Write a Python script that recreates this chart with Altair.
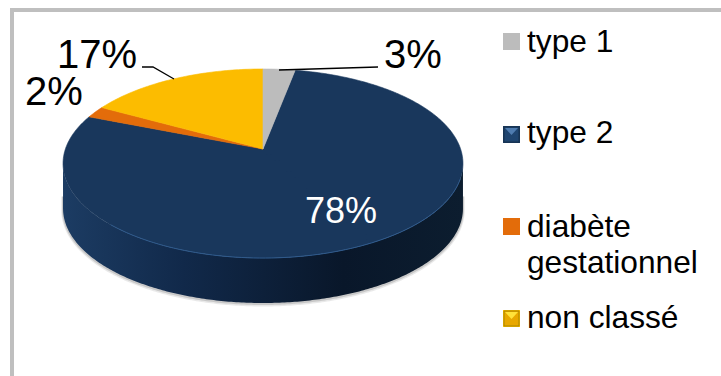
import numpy as np
import pandas as pd
import altair as alt

# Diabetes types and their shares, in percent
categories = ["type 1", "type 2", "diabète gestationnel", "non classé"]
shares = [3, 78, 2, 17]
colors = ["#bcbcbc", "#19375c", "#e36c0a", "#fcbc00"]

# Tilted disc: circle seen in perspective, in chart units
APEX = (263.0, 149.0)
TILT = 0.1534
HALF_X = 197.6
HALF_Y = 92.3
DEPTH = 45.0


def project(fraction):
    """Place a clockwise fraction of the circle on the tilted disc."""
    t = 2 * np.pi * np.asarray(fraction, dtype=float)
    u, v = np.sin(t), np.cos(t)
    w = 1 + TILT * v
    return APEX[0] + HALF_X * u / w, APEX[1] - HALF_Y * v / w


def sector_band(f0, f1):
    """Describe a convex sector as lower and upper y over sorted x."""
    fr = np.linspace(f0, f1, max(int((f1 - f0) * 360), 4))
    ax, ay = project(fr)
    px = np.r_[APEX[0], ax]
    py = np.r_[APEX[1], ay]
    rows = []
    for x in np.unique(np.round(px, 3)):
        hits = []
        n = len(px)
        for i in range(n):
            x0, y0, x1, y1 = px[i], py[i], px[(i + 1) % n], py[(i + 1) % n]
            lo, hi = min(x0, x1), max(x0, x1)
            if lo - 1e-3 <= x <= hi + 1e-3:
                if abs(x1 - x0) < 1e-6:
                    hits += [y0, y1]
                else:
                    hits.append(y0 + (y1 - y0) * (x - x0) / (x1 - x0))
        rows.append({"x": x, "y": min(hits), "y2": max(hits)})
    return pd.DataFrame(rows)


X = alt.X("x:Q", scale=alt.Scale(domain=[0, 721], nice=False, zero=False), axis=None)
Y = alt.Y("y:Q", scale=alt.Scale(domain=[376, 0], nice=False, zero=False), axis=None)
Y2 = alt.Y2("y2:Q")

layers = []

# Frame on the top and left of the chart
frame = pd.DataFrame({"x": [10, 10], "x2": [721, 14], "y": [8, 8], "y2": [12, 376]})
layers.append(
    alt.Chart(frame).mark_rect(color="#bfbfbf").encode(X, alt.X2("x2:Q"), Y, Y2)
)

# Front half of the rim, between the two widest points of the disc
widest = np.arccos(-TILT) / (2 * np.pi)
rim_x, rim_y = project(np.linspace(widest, 1 - widest, 260))
order = np.argsort(rim_x)
rim_x, rim_y = rim_x[order], rim_y[order]
side = pd.DataFrame({"x": rim_x, "y": rim_y, "y2": rim_y + DEPTH})

# Soft grey fringe under the wall
for spread, alpha in [(3.5, 0.18), (2.0, 0.35)]:
    halo = pd.DataFrame(
        {"x": rim_x, "y": rim_y + DEPTH - 12, "y2": rim_y + DEPTH + spread * 0.5}
    )
    layers.append(
        alt.Chart(halo)
        .mark_area(color="#8c8c8c", opacity=alpha, stroke="#8c8c8c", strokeWidth=spread)
        .encode(X, Y, Y2)
    )
layers.append(
    alt.Chart(side)
    .mark_area(
        opacity=1,
        color=alt.Gradient(
            gradient="linear",
            x1=0, x2=1, y1=0, y2=0,
            stops=[
                alt.GradientStop(offset=0.0, color="#1c3c63"),
                alt.GradientStop(offset=0.3, color="#11294a"),
                alt.GradientStop(offset=0.7, color="#09172a"),
                alt.GradientStop(offset=1.0, color="#0c1d2f"),
            ],
        ),
    )
    .encode(X, Y, Y2)
)

# Top face: wide slices are cut into convex parts of the same colour
cum = np.cumsum([0] + shares) / sum(shares)
paint_order = [1, 2, 3, 0]
for idx in paint_order:
    f0, f1 = cum[idx], cum[idx + 1]
    cuts = np.linspace(f0, f1, int(np.ceil((f1 - f0) / 0.4)) + 1)
    for a, b in zip(cuts[:-1], cuts[1:]):
        layers.append(
            alt.Chart(sector_band(a, b))
            .mark_area(opacity=1, color=colors[idx], stroke=colors[idx], strokeWidth=0.6)
            .encode(X, Y, Y2)
        )
    # Cover the hairline left between parts of one slice
    for c in cuts[1:-1]:
        cx, cy = project(c)
        seam = pd.DataFrame({"x": [APEX[0], cx], "y": [APEX[1], cy]})
        layers.append(
            alt.Chart(seam).mark_line(color=colors[idx], strokeWidth=2.5).encode(X, Y)
        )

# Light edge along the front of the top face
ex, ey = project(np.linspace(0.3, 0.62, 80))
layers.append(
    alt.Chart(pd.DataFrame({"x": ex, "y": ey}))
    .mark_line(color="#2f5a8c", strokeWidth=1)
    .encode(X, Y)
)

# Leader lines to the two outer labels
leaders = pd.DataFrame(
    {
        "x": [279, 378, 142, 153, 174],
        "y": [70, 67, 67, 67, 79],
        "id": ["a", "a", "b", "b", "b"],
        "o": [0, 1, 0, 1, 2],
    }
)
layers.append(
    alt.Chart(leaders)
    .mark_line(color="#000000", strokeWidth=1.3)
    .encode(X, Y, detail="id:N", order="o:Q")
)

# Percentage labels
pct = pd.DataFrame(
    {
        "x": [384, 305, 25, 57],
        "y": [68, 223, 105, 68],
        "t": [f"{s}%" for s in shares],
        "c": ["#000000", "#ffffff", "#000000", "#000000"],
        "s": [40, 36, 40, 40],
    }
)
for _, r in pct.iterrows():
    layers.append(
        alt.Chart(pct[pct.t == r.t])
        .mark_text(align="left", baseline="alphabetic", font="Liberation Sans",
                   fontSize=int(r.s), color=r.c)
        .encode(X, Y, text="t:N")
    )

# Hand-placed key, since one entry wraps and the gaps are uneven
swatch_tops = [33, 126, 218, 310]
keys = pd.DataFrame(
    {
        "cat": categories,
        "x": [503] * 4,
        "x2": [520] * 4,
        "y": swatch_tops,
        "y2": [t + 17 for t in swatch_tops],
    }
)
layers.append(
    alt.Chart(keys)
    .mark_rect()
    .encode(
        X, alt.X2("x2:Q"), Y, Y2,
        color=alt.Color("cat:N", scale=alt.Scale(domain=categories, range=colors), legend=None),
    )
)

# Bevels on the two raised key swatches
for top, rim, inner, light in [
    (126, "#17324f", "#1f4570", "#4f7cb0"),
    (310, "#a88600", "#e8a800", "#ffe23a"),
]:
    inset = pd.DataFrame({"x": [504], "x2": [519], "y": [top + 1], "y2": [top + 16]})
    layers.append(
        alt.Chart(inset)
        .mark_rect(color=inner, stroke=rim, strokeWidth=1)
        .encode(X, alt.X2("x2:Q"), Y, Y2)
    )
    bevel = pd.DataFrame(
        {"x": [505, 511.5, 518], "y": [top + 2] * 3, "y2": [top + 2, top + 9, top + 2]}
    )
    layers.append(
        alt.Chart(bevel).mark_area(opacity=1, color=light).encode(X, Y, Y2)
    )

key_text = pd.DataFrame(
    {
        "x": [527] * 5,
        "y": [52, 143, 237, 273, 328],
        "t": ["type 1", "type 2", "diabète", "gestationnel", "non classé"],
    }
)
layers.append(
    alt.Chart(key_text)
    .mark_text(align="left", baseline="alphabetic", font="Liberation Sans",
               fontSize=31.7, color="#000000")
    .encode(X, Y, text="t:N")
)

chart = (
    alt.layer(*layers)
    .properties(width=721, height=376, padding=0, background="#ffffff",
                autosize=alt.AutoSizeParams(type="none"))
    .configure_view(stroke=None)
)
chart.save("out.html", embed_options={"renderer": "svg", "actions": False})
